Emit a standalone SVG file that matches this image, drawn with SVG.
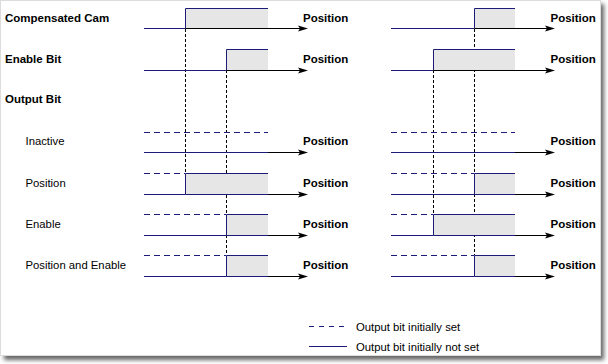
<svg xmlns="http://www.w3.org/2000/svg" width="608" height="364" viewBox="0 0 608 364">
<style>
.bold{font-family:"Liberation Sans",Arial,sans-serif;font-size:11.5px;font-weight:bold;fill:#000}
.norm{font-family:"Liberation Sans",Arial,sans-serif;font-size:11.3px;fill:#000}
.sig{stroke:#1c1c78;stroke-width:1;fill:none}
.dsh{stroke:#1c1c78;stroke-width:1;fill:none;stroke-dasharray:6,4}
.ax{stroke:#000;stroke-width:1;fill:none}
.fill{fill:#e6e6e6;stroke:none}
.guide{stroke:#000;stroke-width:1;stroke-dasharray:3,2;fill:none}
.head{fill:#000}
</style>
<defs>
<filter id="sh" x="-5%" y="-5%" width="110%" height="110%">
<feGaussianBlur stdDeviation="2"/>
</filter>
<polygon id="arr" class="head" points="0,0 -10,-3 -8,0 -10,3"/>
</defs>
<rect x="4" y="4" width="600" height="356" fill="#666" filter="url(#sh)"/>
<rect x="0.5" y="0.5" width="600" height="355" fill="#fff" stroke="#dcdcdc"/>

<g id="labels">
<text class="bold" x="5" y="21.5">Compensated Cam</text>
<text class="bold" x="5" y="63">Enable Bit</text>
<text class="bold" x="5" y="103">Output Bit</text>
<text class="norm" x="25.5" y="145">Inactive</text>
<text class="norm" x="25.5" y="186.5">Position</text>
<text class="norm" x="25.5" y="227.5">Enable</text>
<text class="norm" x="25.5" y="268.5">Position and Enable</text>
</g>

<g id="connectors">
<line class="guide" x1="185.5" y1="29" x2="185.5" y2="173"/>
<line class="guide" x1="226.5" y1="70" x2="226.5" y2="255"/>
<line class="guide" x1="474.5" y1="29" x2="474.5" y2="255"/>
<line class="guide" x1="433.5" y1="70" x2="433.5" y2="214"/>
</g>

<!-- Left column -->
<g id="left-cam">
<rect class="fill" x="185.5" y="8.5" width="82.5" height="20"/>
<polyline class="sig" points="144,28.5 185.5,28.5 185.5,8.5 268,8.5"/>
<line class="ax" x1="185.5" y1="28.5" x2="300" y2="28.5"/>
<use href="#arr" x="308" y="28.5"/>
<text class="bold" x="303" y="21.5">Position</text>
</g>
<g id="left-enable">
<rect class="fill" x="226.5" y="49.5" width="41.5" height="21"/>
<polyline class="sig" points="144,70.5 226.5,70.5 226.5,49.5 268,49.5"/>
<line class="ax" x1="226.5" y1="70.5" x2="300" y2="70.5"/>
<use href="#arr" x="308" y="70.5"/>
<text class="bold" x="303" y="63">Position</text>
</g>
<g id="left-inactive">
<line class="dsh" x1="144" y1="132.5" x2="268" y2="132.5"/>
<line class="sig" x1="144" y1="152.5" x2="268" y2="152.5"/>
<line class="ax" x1="268" y1="152.5" x2="300" y2="152.5"/>
<use href="#arr" x="308" y="152.5"/>
<text class="bold" x="303" y="145">Position</text>
</g>
<g id="left-position">
<rect class="fill" x="185.5" y="173.5" width="82.5" height="21"/>
<line class="dsh" x1="144" y1="173.5" x2="185" y2="173.5"/>
<polyline class="sig" points="144,194.5 185.5,194.5 185.5,173.5 268,173.5"/>
<line class="sig" x1="185.5" y1="194.5" x2="268" y2="194.5"/>
<line class="ax" x1="268" y1="194.5" x2="300" y2="194.5"/>
<use href="#arr" x="308" y="194.5"/>
<text class="bold" x="303" y="186.5">Position</text>
</g>
<g id="left-enable-row">
<rect class="fill" x="226.5" y="214.5" width="41.5" height="21"/>
<line class="dsh" x1="144" y1="214.5" x2="226" y2="214.5"/>
<polyline class="sig" points="144,235.5 226.5,235.5 226.5,214.5 268,214.5"/>
<line class="sig" x1="226.5" y1="235.5" x2="268" y2="235.5"/>
<line class="ax" x1="268" y1="235.5" x2="300" y2="235.5"/>
<use href="#arr" x="308" y="235.5"/>
<text class="bold" x="303" y="227.5">Position</text>
</g>
<g id="left-pos-enable">
<rect class="fill" x="226.5" y="255.5" width="41.5" height="21"/>
<line class="dsh" x1="144" y1="255.5" x2="226" y2="255.5"/>
<polyline class="sig" points="144,276.5 226.5,276.5 226.5,255.5 268,255.5"/>
<line class="sig" x1="226.5" y1="276.5" x2="268" y2="276.5"/>
<line class="ax" x1="268" y1="276.5" x2="300" y2="276.5"/>
<use href="#arr" x="308" y="276.5"/>
<text class="bold" x="303" y="268.5">Position</text>
</g>

<!-- Right column -->
<g id="right-cam">
<rect class="fill" x="474.5" y="8.5" width="40.5" height="20"/>
<polyline class="sig" points="391,28.5 474.5,28.5 474.5,8.5 515,8.5"/>
<line class="ax" x1="474.5" y1="28.5" x2="547" y2="28.5"/>
<use href="#arr" x="555" y="28.5"/>
<text class="bold" x="550.5" y="21.5">Position</text>
</g>
<g id="right-enable">
<rect class="fill" x="433.5" y="49.5" width="81.5" height="21"/>
<polyline class="sig" points="391,70.5 433.5,70.5 433.5,49.5 515,49.5"/>
<line class="ax" x1="433.5" y1="70.5" x2="547" y2="70.5"/>
<use href="#arr" x="555" y="70.5"/>
<text class="bold" x="550.5" y="63">Position</text>
</g>
<g id="right-inactive">
<line class="dsh" x1="391" y1="132.5" x2="515" y2="132.5"/>
<line class="sig" x1="391" y1="152.5" x2="515" y2="152.5"/>
<line class="ax" x1="515" y1="152.5" x2="547" y2="152.5"/>
<use href="#arr" x="555" y="152.5"/>
<text class="bold" x="550.5" y="145">Position</text>
</g>
<g id="right-position">
<rect class="fill" x="474.5" y="173.5" width="40.5" height="21"/>
<line class="dsh" x1="391" y1="173.5" x2="474" y2="173.5"/>
<polyline class="sig" points="391,194.5 474.5,194.5 474.5,173.5 515,173.5"/>
<line class="sig" x1="474.5" y1="194.5" x2="515" y2="194.5"/>
<line class="ax" x1="515" y1="194.5" x2="547" y2="194.5"/>
<use href="#arr" x="555" y="194.5"/>
<text class="bold" x="550.5" y="186.5">Position</text>
</g>
<g id="right-enable-row">
<rect class="fill" x="433.5" y="214.5" width="81.5" height="21"/>
<line class="dsh" x1="391" y1="214.5" x2="433" y2="214.5"/>
<polyline class="sig" points="391,235.5 433.5,235.5 433.5,214.5 515,214.5"/>
<line class="sig" x1="433.5" y1="235.5" x2="515" y2="235.5"/>
<line class="ax" x1="515" y1="235.5" x2="547" y2="235.5"/>
<use href="#arr" x="555" y="235.5"/>
<text class="bold" x="550.5" y="227.5">Position</text>
</g>
<g id="right-pos-enable">
<rect class="fill" x="474.5" y="255.5" width="40.5" height="21"/>
<line class="dsh" x1="391" y1="255.5" x2="474" y2="255.5"/>
<polyline class="sig" points="391,276.5 474.5,276.5 474.5,255.5 515,255.5"/>
<line class="sig" x1="474.5" y1="276.5" x2="515" y2="276.5"/>
<line class="ax" x1="515" y1="276.5" x2="547" y2="276.5"/>
<use href="#arr" x="555" y="276.5"/>
<text class="bold" x="550.5" y="268.5">Position</text>
</g>

<g id="legend">
<line class="dsh" x1="309" y1="326.5" x2="347" y2="326.5" style="stroke-dasharray:5,5"/>
<text class="norm" x="356" y="330.5">Output bit initially set</text>
<line class="sig" x1="309" y1="346.5" x2="347" y2="346.5"/>
<text class="norm" x="356" y="350.5">Output bit initially not set</text>
</g>
</svg>
